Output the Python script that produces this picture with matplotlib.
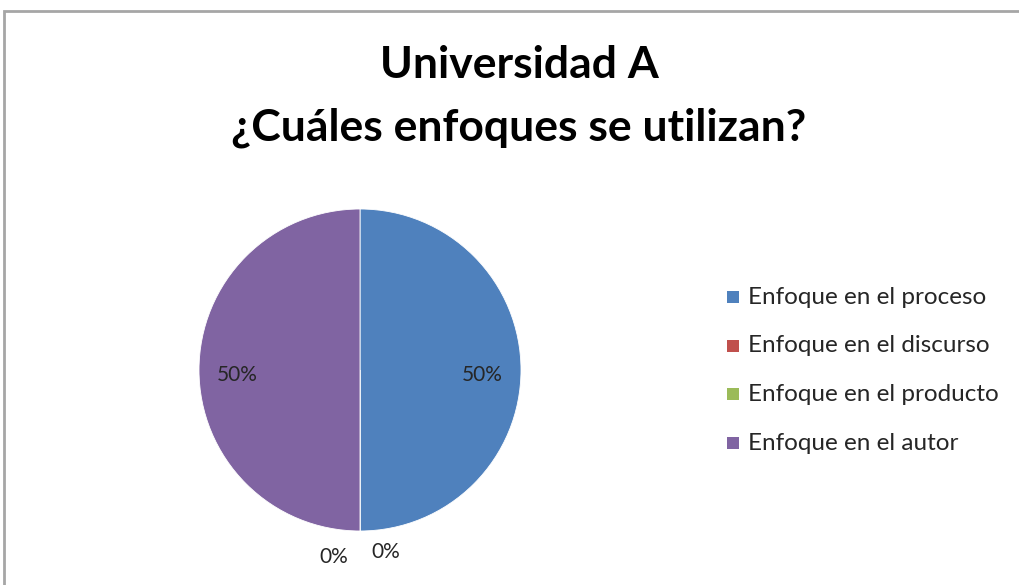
import matplotlib
matplotlib.use("Agg")
import matplotlib.pyplot as plt
from matplotlib.patches import Rectangle
import numpy as np

categories = ["Enfoque en el proceso", "Enfoque en el discurso",
              "Enfoque en el producto", "Enfoque en el autor"]
values = [50, 0, 0, 50]
colors = ["#4F81BD", "#C0504D", "#9BBB59", "#8064A2"]
title_lines = ["Universidad A", "¿Cuáles enfoques se utilizan?"]

plt.rcParams['font.family'] = ['Lato', 'DejaVu Sans']

W, H = 1019, 585
fig = plt.figure(figsize=(W/100, H/100), dpi=100)

# chart border
fig.patches.append(Rectangle((4/W, -0.1), 1.2, (H-11)/H + 0.1, transform=fig.transFigure,
                             fill=False, edgecolor="#A6A6A6", linewidth=2))

cx, cy, r = 360, 370, 161
ax = fig.add_axes([(cx-r)/W, (H-cy-r)/H, 2*r/W, 2*r/H])

total = sum(values)
wedges, _ = ax.pie(values, colors=colors, startangle=90, counterclock=False,
                   radius=1, wedgeprops=dict(linewidth=0.6, edgecolor='white'))
ax.set_xlim(-1, 1)
ax.set_ylim(-1, 1)
ax.set_aspect('equal')
ax.axis('off')

zero_offsets = {1: 8, 2: -8}
for i, (w, v) in enumerate(zip(wedges, values)):
    pct = f"{round(100*v/total)}%"
    ang = np.deg2rad((w.theta1 + w.theta2) / 2)
    if v > 0:
        d = 0.76
        ax.text(d*np.cos(ang), d*np.sin(ang) - 0.03, pct, ha='center', va='center',
                fontsize=15, color='#262626', clip_on=False)
    else:
        a = ang + np.deg2rad(zero_offsets.get(i, 0))
        d = 1.14 if i == 1 else 1.17
        ax.text(d*np.cos(a), d*np.sin(a), pct, ha='center', va='center',
                fontsize=15, color='#262626', clip_on=False)

title_y = [65, 128]
for line, ty in zip(title_lines, title_y):
    fig.text(519/W, 1 - ty/H, line, ha='center', va='center', fontsize=32,
             fontweight='bold', color='#000000')

leg_y0, leg_dy = 297, 48.7
for i, (c, lab) in enumerate(zip(colors, categories)):
    y = leg_y0 + i*leg_dy
    fig.patches.append(Rectangle((727/W, 1 - (y+6)/H), 12/W, 12/H,
                                 transform=fig.transFigure, facecolor=c, edgecolor='none'))
    fig.text(748/W, 1 - y/H, lab, ha='left', va='center', fontsize=17.5, color='#262626')

fig.savefig("out.png", dpi=100)
